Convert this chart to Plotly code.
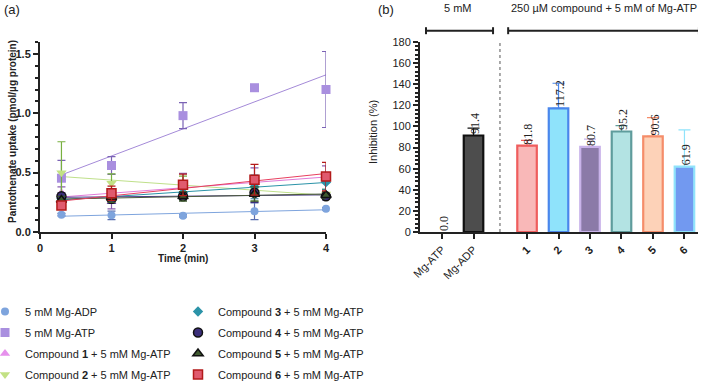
import numpy as np
import plotly.graph_objects as go

# ---------------- Panel (a) data ----------------
time_min = [0.3, 1, 2, 3, 4]
adp_vals = [0.146, 0.140, 0.137, 0.174, 0.196]
adp_err = [0.01, 0.035, 0.01, 0.07, 0.01]
atp_vals = [0.453, 0.56, 0.98, 1.215, 1.20]
atp_err = [0.15, 0.075, 0.11, 0.0, 0.32]
c1_vals = [0.33, 0.255, 0.414, 0.42, 0.456]
c1_err = [0.05, 0.06, 0.08, 0.12, 0.10]
c2_vals = [0.50, 0.41, 0.37, 0.36, 0.32]
c2_err = [0.26, 0.08, 0.10, 0.10, 0.04]
c3_vals = [0.28, 0.29, 0.33, 0.38, 0.42]
c3_err = [0.03, 0.05, 0.05, 0.10, 0.06]
c4_vals = [0.30, 0.28, 0.30, 0.33, 0.30]
c4_err = [0.03, 0.04, 0.03, 0.08, 0.03]
c5_vals = [0.27, 0.29, 0.30, 0.32, 0.31]
c5_err = [0.03, 0.04, 0.04, 0.06, 0.03]
c6_vals = [0.224, 0.327, 0.397, 0.44, 0.467]
c6_err = [0.03, 0.06, 0.09, 0.13, 0.12]

series_names = [
    "5 mM Mg-ADP", "5 mM Mg-ATP",
    "Compound <b>1</b> + 5 mM Mg-ATP", "Compound <b>2</b> + 5 mM Mg-ATP",
    "Compound <b>3</b> + 5 mM Mg-ATP", "Compound <b>4</b> + 5 mM Mg-ATP",
    "Compound <b>5</b> + 5 mM Mg-ATP", "Compound <b>6</b> + 5 mM Mg-ATP",
]
series_vals = [adp_vals, atp_vals, c1_vals, c2_vals, c3_vals, c4_vals, c5_vals, c6_vals]
series_err = [adp_err, atp_err, c1_err, c2_err, c3_err, c4_err, c5_err, c6_err]

# ---------------- Panel (b) data ----------------
bar_labels = ["Mg-ATP", "Mg-ADP", "<b>1</b>", "<b>2</b>", "<b>3</b>", "<b>4</b>", "<b>5</b>", "<b>6</b>"]
bar_pos = [0, 1, 2.7, 3.7, 4.7, 5.7, 6.7, 7.7]
inhibition = [0.0, 91.4, 81.8, 117.2, 80.7, 95.2, 90.6, 61.9]
inhibition_err = [0.0, 7.0, 5.0, 23.7, 7.2, 5.6, 17.8, 34.9]

# ---------------- styles ----------------
sym = ["circle", "square", "triangle-up", "triangle-down", "diamond", "circle", "triangle-up", "square"]
mfill = ["#7ea4dd", "#a98fdf", "#e690ec", "#c2e184", "#2b93a8", "#3b2f7a", "#3f5a2f", "#e05a6e"]
mline = ["#7ea4dd", "#a98fdf", "#e690ec", "#c2e184", "#2b93a8", "#111111", "#111111", "#b31a1a"]
mlw = [0, 0, 0, 0, 0, 1.5, 1.5, 1.5]
fitcol = ["#7ea4dd", "#a48ad8", "#e07ad8", "#bfe08a", "#2b93a8", "#4a3a8a", "#4a5a3a", "#e84060"]
errcol = ["#5a6fb0", "#7b63b5", "#8a5fb0", "#78b040", "#2b7a98", "#3b2f7a", "#3f5a2f", "#b31a1a"]
msize = [8, 9, 9, 9, 8, 9, 9, 9]
legend_id = ["legend", "legend", "legend", "legend", "legend2", "legend2", "legend2", "legend2"]

bar_fill = ["rgba(0,0,0,0)", "#4d4d4d", "#f9b8b8", "#8fe3fb", "#8b7aa8", "#b3e3e3", "#fdd2b8", "#7299f0"]
bar_line = ["rgba(0,0,0,0)", "#111111", "#ef5d5d", "#4a86ec", "#c9b3ea", "#5f9c9c", "#f58d6a", "#90e3fb"]

fig = go.Figure()

# fit lines (linear regression of each series)
fit_x = np.array([min(time_min), max(time_min)])
for i, vals in enumerate(series_vals):
    slope, icpt = np.polyfit(time_min, vals, 1)
    fig.add_trace(go.Scatter(x=fit_x, y=slope * fit_x + icpt, mode="lines",
                             line=dict(color=fitcol[i], width=1), showlegend=False,
                             hoverinfo="skip", xaxis="x", yaxis="y", cliponaxis=False))

# data points
for i, vals in enumerate(series_vals):
    fig.add_trace(go.Scatter(
        x=time_min, y=vals, mode="markers", name=series_names[i],
        marker=dict(symbol=sym[i], size=msize[i], color=mfill[i],
                    line=dict(color=mline[i], width=mlw[i])),
        error_y=dict(type="data", array=series_err[i], color=errcol[i], thickness=1.2, width=4),
        xaxis="x", yaxis="y", cliponaxis=False, legend=legend_id[i], legendgroup=str(i)))

# bars
for i in range(len(bar_pos)):
    fig.add_trace(go.Bar(
        x=[bar_pos[i]], y=[inhibition[i]], width=0.62,
        marker=dict(color=bar_fill[i], line=dict(color=bar_line[i], width=2.2)),
        error_y=dict(type="data", array=[inhibition_err[i]], arrayminus=[0], symmetric=False,
                     color=bar_line[i] if i > 0 else "rgba(0,0,0,0)", thickness=1.2, width=6),
        xaxis="x2", yaxis="y2", showlegend=False, cliponaxis=False))

annotations = []
for i in range(len(bar_pos)):
    label = f"{inhibition[i]:.1f}"
    half_len = (6 * (len(label) - 1) + 3) / 2
    annotations.append(dict(x=bar_pos[i] + 0.05, y=inhibition[i], xref="x2", yref="y2",
                            text=label, textangle=-90, showarrow=False,
                            xanchor="center", yanchor="middle", yshift=half_len + 1,
                            font=dict(family="Liberation Serif", size=12, color="#222")))

annotations += [
    dict(x=2 / 709, y=1.0, xref="paper", yref="paper", text="(a)", showarrow=False,
         xanchor="left", yanchor="top", font=dict(size=13, color="#222")),
    dict(x=376 / 709, y=1.0, xref="paper", yref="paper", text="(b)", showarrow=False,
         xanchor="left", yanchor="top", font=dict(size=13, color="#222")),
    dict(x=0.5, y=1.0, xref="x2", yref="paper", text="5 mM", showarrow=False,
         yanchor="top", font=dict(size=11, color="#222")),
    dict(x=5.15, y=1.0, xref="x2", yref="paper", text="250 µM compound + 5 mM of Mg-ATP",
         showarrow=False, yanchor="top", font=dict(size=11, color="#222")),
    # axis titles
    dict(x=2.0, y=1 - 258 / 382, xref="x", yref="paper", text="<b>Time (min)</b>",
         showarrow=False, yanchor="middle", font=dict(size=10, color="#222")),
    dict(x=12 / 709, y=1 - 132 / 382, xref="paper", yref="paper",
         text="<b>Pantothenate uptake (pmol/µg protein)</b>", textangle=-90,
         showarrow=False, xanchor="center", yanchor="middle", font=dict(size=10, color="#222")),
    dict(x=373 / 709, y=1 - 132 / 382, xref="paper", yref="paper", text="Inhibition (%)",
         textangle=-90, showarrow=False, xanchor="center", yanchor="middle",
         font=dict(size=11, color="#222")),
]

yb = 1 - 30.7 / 382
cap = 3.5 / 382
shapes = []
for (a, b) in [(-0.51, 1.62), (2.1, 8.16)]:
    shapes.append(dict(type="line", xref="x2", yref="paper", x0=a, x1=b, y0=yb, y1=yb,
                       line=dict(color="#222", width=2)))
    for e in (a, b):
        shapes.append(dict(type="line", xref="x2", yref="paper", x0=e, x1=e,
                           y0=yb - cap, y1=yb + cap, line=dict(color="#222", width=2)))
shapes.append(dict(type="line", xref="x2", yref="y2", x0=1.84, x1=1.84, y0=0, y1=181,
                   line=dict(color="#555", width=1, dash="dot")))

ydom = [1 - 232 / 382, 1 - 42 / 382]
axis_common = dict(showgrid=False, zeroline=False, showline=True, linecolor="#222",
                   linewidth=2, ticks="outside", tickcolor="#222", tickwidth=1.5, ticklen=5,
                   automargin=False)

fig.update_layout(
    width=709, height=382, margin=dict(l=0, r=0, t=0, b=0, autoexpand=False),
    paper_bgcolor="white", plot_bgcolor="white",
    font=dict(family="Liberation Sans", color="#222"),
    barmode="overlay", showlegend=True,
    xaxis=dict(domain=[40 / 709, 326 / 709], range=[0, 4], anchor="y", tickvals=[0, 1, 2, 3, 4],
               ticktext=["<b>0</b>", "<b>1</b>", "<b>2</b>", "<b>3</b>", "<b>4</b>"],
               tickfont=dict(size=11), **axis_common),
    yaxis=dict(domain=ydom, range=[0, 1.6], anchor="x", tickvals=[0, 0.5, 1.0, 1.5],
               ticktext=["<b>0.0</b>", "<b>0.5</b>", "<b>1.0</b>", "<b>1.5</b>"],
               tickfont=dict(size=11),
               minor=dict(dtick=0.1, ticklen=3, ticks="outside", tickcolor="#222"),
               **axis_common),
    xaxis2=dict(domain=[420 / 709, 698 / 709], range=[-0.7, 8.13], anchor="y2",
                tickvals=bar_pos, ticktext=bar_labels, tickangle=-45, tickfont=dict(size=11),
                **axis_common),
    yaxis2=dict(domain=ydom, range=[0, 180], anchor="x2", dtick=20, tickfont=dict(size=11),
                minor=dict(dtick=4, ticklen=3, ticks="outside", tickcolor="#222"),
                **axis_common),
    legend=dict(x=-15 / 709, y=1 - 297 / 382, xanchor="left", yanchor="top", orientation="v",
                font=dict(size=11, color="#222"), tracegroupgap=2, bgcolor="rgba(0,0,0,0)"),
    legend2=dict(x=178 / 709, y=1 - 297 / 382, xanchor="left", yanchor="top", orientation="v",
                 font=dict(size=11, color="#222"), tracegroupgap=2, bgcolor="rgba(0,0,0,0)"),
    annotations=annotations, shapes=shapes,
)

fig.write_html("out.html", config={"displayModeBar": False},
               post_script="document.body.style.margin='0px';")
